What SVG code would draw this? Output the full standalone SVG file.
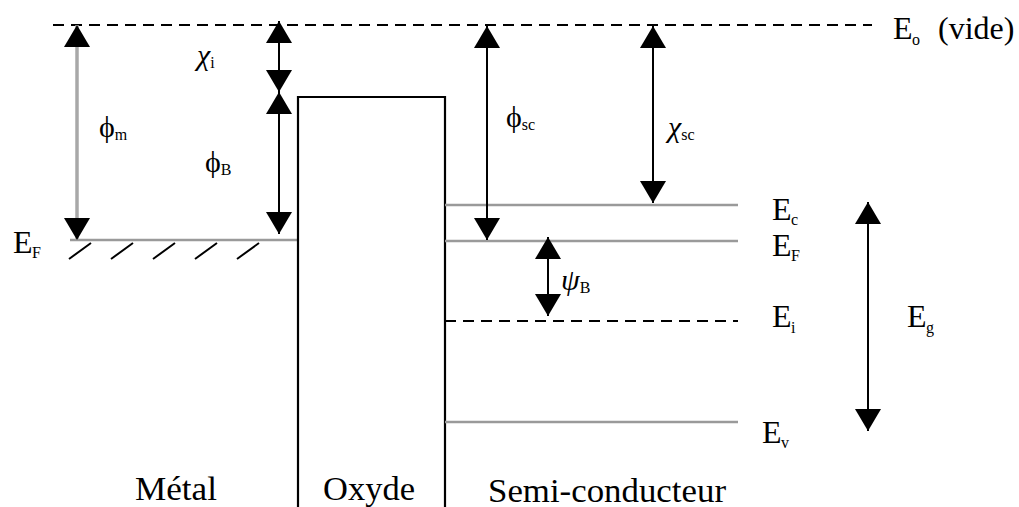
<svg xmlns="http://www.w3.org/2000/svg" width="1019" height="507" viewBox="0 0 1019 507">
<style>
text{font-family:'Liberation Serif','Times New Roman','DejaVu Serif',serif;fill:#000}
.big{font-size:32px}
.sub{font-size:16px;font-style:normal}
.gk{font-size:30px}
.it{font-style:italic}
.region{font-size:34px}
.level{stroke:#9a9a9a;stroke-width:2.5;fill:none}
.dash{stroke:#000;stroke-width:2;stroke-dasharray:11 7;fill:none}
.arr{stroke:#000;stroke-width:2;fill:none;marker-start:url(#ah);marker-end:url(#ah)}
.arrg{stroke:#a8a8a8;stroke-width:3.5;fill:none;marker-start:url(#ah);marker-end:url(#ah)}
.hatch{stroke:#000;stroke-width:2;fill:none}
</style>
<defs>
<marker id="ah" viewBox="0 0 22 26" refX="22" refY="13" markerWidth="22" markerHeight="26" markerUnits="userSpaceOnUse" orient="auto-start-reverse">
<path d="M0,0 L22,13 L0,26 Z" fill="#000"/>
</marker>
</defs>
<rect width="1019" height="507" fill="#fff"/>
<g id="vacuum">
<line class="dash" x1="53" y1="25" x2="872" y2="25"/>
<text class="big" x="893" y="39">E<tspan class="sub" x="912" y="45">o</tspan><tspan x="938" y="39">(vide)</tspan></text>
</g>
<g id="metal">
<line class="level" x1="70" y1="240" x2="298" y2="240"/>
<path class="hatch" d="M69,259 L91,243 M111,259 L133,243 M153,259 L175,243 M195,259 L217,243 M237,259 L259,243"/>
<text class="big" x="13" y="253">E<tspan class="sub" x="32" y="258">F</tspan></text>
<text class="region" x="135" y="500" textLength="82" lengthAdjust="spacingAndGlyphs">Métal</text>
</g>
<g id="oxide">
<path d="M298,510 V97 H445 V510" stroke="#000" stroke-width="2.2" fill="none"/>
<text class="region" x="323" y="500" textLength="92" lengthAdjust="spacingAndGlyphs">Oxyde</text>
</g>
<g id="semiconductor">
<line class="level" x1="445" y1="205" x2="738" y2="205"/>
<line class="level" x1="445" y1="241" x2="738" y2="241"/>
<line class="dash" x1="445" y1="321" x2="738" y2="321"/>
<line class="level" x1="445" y1="422" x2="738" y2="422"/>
<text class="big" x="772" y="220">E<tspan class="sub" x="791" y="225">c</tspan></text>
<text class="big" x="772" y="256">E<tspan class="sub" x="791" y="261">F</tspan></text>
<text class="big" x="772" y="327">E<tspan class="sub" x="791" y="333">i</tspan></text>
<text class="big" x="762" y="443">E<tspan class="sub" x="781" y="448">v</tspan></text>
<text class="big" x="907" y="327">E<tspan class="sub" x="926" y="333">g</tspan></text>
<text class="region" x="488" y="502" textLength="238" lengthAdjust="spacingAndGlyphs">Semi-conducteur</text>
</g>
<g id="connectors">
<line class="arrg" x1="77" y1="25" x2="77" y2="240"/>
<line class="arr" x1="279" y1="21" x2="279" y2="92"/>
<line class="arr" x1="279" y1="92" x2="279" y2="234"/>
<line class="arr" x1="487" y1="26" x2="487" y2="240"/>
<line class="arr" x1="653" y1="26" x2="653" y2="203"/>
<line class="arr" x1="548" y1="237" x2="548" y2="316"/>
<line class="arr" x1="868" y1="202" x2="868" y2="431"/>
</g>
<g id="labels">
<text class="gk" x="99" y="137">ϕ<tspan class="sub" y="140">m</tspan></text>
<text class="gk it" x="197" y="65">χ<tspan class="sub" y="68">i</tspan></text>
<text class="gk" x="205" y="172">ϕ<tspan class="sub" y="175">B</tspan></text>
<text class="gk" x="506" y="127">ϕ<tspan class="sub" y="130">sc</tspan></text>
<text class="gk it" x="668" y="137">χ<tspan class="sub" y="140">sc</tspan></text>
<text class="gk it" x="561" y="290">ψ<tspan class="sub" y="293">B</tspan></text>
</g>
</svg>
